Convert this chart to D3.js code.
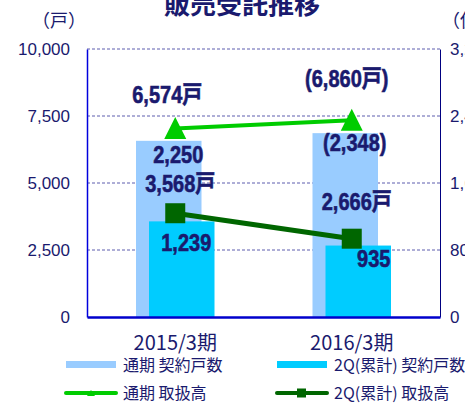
<!DOCTYPE html>
<html>
<head>
<meta charset="utf-8">
<script src="https://cdn.jsdelivr.net/npm/d3@7"></script>
<style>
  body { margin: 0; background: #fff; }
  svg { display: block; font-family: "Liberation Sans", "Noto Sans CJK JP", sans-serif; }
</style>
</head>
<body>
<div id="chart"></div>
<script>
// data
const periods = ["2015/3期", "2016/3期"];
const unitsFull = [6574, 6860];      // 通期 契約戸数
const units2Q = [3568, 2666];        // 2Q(累計) 契約戸数
const amountFull = [2250, 2348];     // 通期 取扱高 (億円)
const amount2Q = [1239, 935];        // 2Q(累計) 取扱高
const leftTicks = [0, 2500, 5000, 7500, 10000];
const rightTicks = [0, 800, 1600, 2400, 3200];
const unitsFullLabels = ["6,574戸", "(6,860戸)"];
const units2QLabels = ["3,568戸", "2,666戸"];
const amountFullLabels = ["2,250", "(2,348)"];
const amount2QLabels = ["1,239", "935"];

const W = 465, H = 404;
const navy = "#1a1a6e";
const m = { left: 87, right: 25, top: 49, bottom: 87 };
const iw = W - m.left - m.right;
const ih = H - m.top - m.bottom;

const svg = d3.select("#chart").append("svg")
  .attr("width", W)
  .attr("height", H);

const x = d3.scaleBand().domain(periods).range([m.left, m.left + iw]).padding(0);
const yL = d3.scaleLinear().domain([0, 10000]).range([m.top + ih, m.top]);
const yR = d3.scaleLinear().domain([0, 3200]).range([m.top + ih, m.top]);
const cx = d => x(d) + x.bandwidth() / 2;

// title (top is cut off in the original)
svg.append("text")
  .attr("x", 242).attr("y", 14)
  .attr("text-anchor", "middle")
  .attr("font-family", "Noto Sans CJK JP")
  .attr("font-weight", "bold")
  .attr("font-size", 26)
  .attr("fill", navy)
  .text("販売受託推移");

// unit labels
svg.append("text")
  .attr("x", 59).attr("y", 27)
  .attr("text-anchor", "middle")
  .attr("font-family", "Noto Sans CJK JP")
  .attr("font-size", 18)
  .attr("fill", navy)
  .text("（戸）");
svg.append("text")
  .attr("x", 442).attr("y", 27)
  .attr("font-family", "Noto Sans CJK JP")
  .attr("font-size", 18)
  .attr("fill", navy)
  .text("（億円）");

// gridlines
svg.append("g")
  .selectAll("line")
  .data(leftTicks.filter(t => t > 0))
  .enter()
  .append("line")
  .attr("x1", m.left).attr("x2", m.left + iw)
  .attr("y1", d => yL(d)).attr("y2", d => yL(d))
  .attr("stroke", "#333399")
  .attr("stroke-width", 0.8)
  .attr("stroke-dasharray", "3,2");

// left axis
const yAxisL = d3.axisLeft(yL).tickValues(leftTicks).tickSize(0).tickPadding(17)
  .tickFormat(d3.format(","));
const gL = svg.append("g")
  .attr("transform", `translate(${m.left},0)`)
  .call(yAxisL);
gL.select(".domain").attr("stroke", "#0000dd").attr("stroke-width", 1.5);
gL.selectAll("text")
  .attr("font-size", 17)
  .attr("fill", navy)
  .attr("font-family", "Liberation Sans");

// right axis
const yAxisR = d3.axisRight(yR).tickValues(rightTicks).tickSize(0).tickPadding(10)
  .tickFormat(d3.format(","));
const gR = svg.append("g")
  .attr("transform", `translate(${m.left + iw},0)`)
  .call(yAxisR);
gR.select(".domain").attr("stroke", "#000080").attr("stroke-width", 1);
gR.selectAll("text")
  .attr("font-size", 17)
  .attr("fill", navy)
  .attr("font-family", "Liberation Sans");

// bars
const barW = 65.5, shift = 6.5;
svg.append("g")
  .selectAll("rect")
  .data(periods)
  .enter()
  .append("rect")
  .attr("x", (d, i) => cx(d) - shift - barW / 2)
  .attr("y", (d, i) => yL(unitsFull[i]))
  .attr("width", barW)
  .attr("height", (d, i) => yL(0) - yL(unitsFull[i]))
  .attr("fill", "#99ccff");

svg.append("g")
  .selectAll("rect")
  .data(periods)
  .enter()
  .append("rect")
  .attr("x", (d, i) => cx(d) + shift - barW / 2)
  .attr("y", (d, i) => yL(units2Q[i]))
  .attr("width", barW)
  .attr("height", (d, i) => yL(0) - yL(units2Q[i]))
  .attr("fill", "#00ccff");

// bottom axis
const xAxis = d3.axisBottom(x).tickSize(0).tickPadding(19);
const gX = svg.append("g")
  .attr("transform", `translate(0,${m.top + ih})`)
  .call(xAxis);
gX.select(".domain").attr("stroke", "#0000cc").attr("stroke-width", 2.5);
gX.selectAll("text")
  .attr("font-size", 20)
  .attr("fill", navy)
  .attr("font-family", "Noto Sans CJK JP");

// lines
const lineFull = d3.line().x((d, i) => cx(periods[i])).y(d => yR(d));
svg.append("path")
  .datum(amountFull)
  .attr("d", lineFull)
  .attr("fill", "none")
  .attr("stroke", "#00cc00")
  .attr("stroke-width", 4);

svg.append("path")
  .datum(amount2Q)
  .attr("d", lineFull)
  .attr("fill", "none")
  .attr("stroke", "#006600")
  .attr("stroke-width", 5);

svg.append("g")
  .selectAll("path")
  .data(amountFull)
  .enter()
  .append("path")
  .attr("d", "M0,-11L11,11L-11,11Z")
  .attr("transform", (d, i) => `translate(${cx(periods[i])},${yR(d) - 0.5})`)
  .attr("fill", "#00cc00");

svg.append("g")
  .selectAll("rect")
  .data(amount2Q)
  .enter()
  .append("rect")
  .attr("x", (d, i) => cx(periods[i]) - 10)
  .attr("y", d => yR(d) - 10)
  .attr("width", 20)
  .attr("height", 20)
  .attr("fill", "#006600");

// data labels (tall, heavy lettering as in the original)
function labels(texts, xs, ys) {
  svg.append("g")
    .selectAll("text")
    .data(texts)
    .enter()
    .append("text")
    .attr("transform", (d, i) => `translate(${xs[i]},${ys[i]}) scale(1,1.22)`)
    .attr("text-anchor", "middle")
    .attr("font-size", 20)
    .attr("font-weight", "bold")
    .attr("fill", navy)
    .attr("stroke", navy)
    .attr("stroke-width", 0.5)
    .text(d => d);
}
labels(unitsFullLabels, [cx(periods[0]) - 8, cx(periods[1]) - 5], [103, 87]);
labels(amountFullLabels, [cx(periods[0]) + 3, cx(periods[1]) + 3], [163, 151]);
labels(units2QLabels, [cx(periods[0]) + 5, cx(periods[1]) + 5], [192, 210]);
labels(amount2QLabels, [cx(periods[0]) + 11, cx(periods[1]) + 22], [251, 267]);

// legend
const legend = svg.append("g").attr("font-family", "Noto Sans CJK JP").attr("font-size", 16).attr("fill", navy);
const items = [
  { name: "通期 契約戸数", x: 66, y: 365, kind: "bar", color: "#99ccff" },
  { name: "2Q(累計) 契約戸数", x: 277, y: 365, kind: "bar", color: "#00ccff" },
  { name: "通期 取扱高", x: 66, y: 393, kind: "tri", color: "#00cc00" },
  { name: "2Q(累計) 取扱高", x: 277, y: 393, kind: "sq", color: "#006600" }
];
items.forEach(it => {
  if (it.kind === "bar") {
    legend.append("rect")
      .attr("x", it.x).attr("y", it.y - 4)
      .attr("width", 50).attr("height", 7)
      .attr("fill", it.color);
  } else {
    legend.append("line")
      .attr("x1", it.x).attr("x2", it.x + 50)
      .attr("y1", it.y).attr("y2", it.y)
      .attr("stroke", it.color)
      .attr("stroke-width", 4)
      .attr("stroke-linecap", "round");
    if (it.kind === "tri") {
      legend.append("path")
        .attr("d", "M0,-3L4,3L-4,3Z")
        .attr("transform", `translate(${it.x + 25},${it.y})`)
        .attr("fill", it.color);
    } else {
      legend.append("rect")
        .attr("x", it.x + 20).attr("y", it.y - 4.5)
        .attr("width", 9).attr("height", 9)
        .attr("fill", it.color);
    }
  }
  legend.append("text")
    .attr("x", it.x + 57)
    .attr("y", it.y + 6)
    .text(it.name);
});
</script>
</body>
</html>
